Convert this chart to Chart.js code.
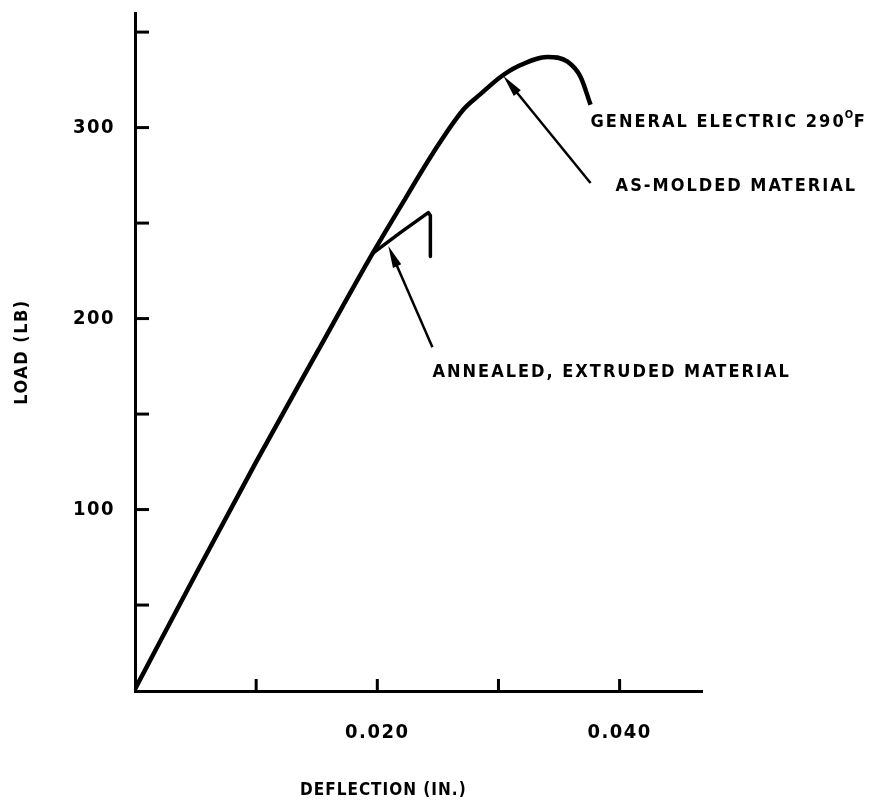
<!DOCTYPE html>
<html>
<head>
<meta charset="utf-8">
<script src="https://cdn.jsdelivr.net/npm/chart.js@4.4.1/dist/chart.umd.min.js"></script>
<style>
  html, body { margin: 0; padding: 0; background: #fff; }
  #wrap { width: 887px; height: 803px; }
</style>
</head>
<body>
<div id="wrap"><canvas id="grafico"></canvas></div>
<script>
// dados (deflexao em polegadas, carga em lb)
const deflexaoGE = [0, 0.005, 0.010, 0.015, 0.0196, 0.0219, 0.02463, 0.02711, 0.02851, 0.03017, 0.03157, 0.03405, 0.0357, 0.03678, 0.0376];
const cargaGE = [6, 66, 125, 182, 234, 258.5, 287, 309.5, 317.5, 326.5, 332, 337, 334.5, 326.5, 312];

const deflexaoRecozido = [0.01959, 0.0219, 0.02421, 0.02438, 0.02438];
const cargaRecozido = [234, 245, 255.5, 254, 232.5];

const ticksX = [0.010, 0.020, 0.030, 0.040];
const rotulosX = [0.020, 0.040];
const ticksY = [50, 100, 150, 200, 250, 300, 350];
const rotulosY = [100, 200, 300];

// setas: [cauda x, cauda y, ponta x, ponta y]
const setaGE = [0.0376, 271, 0.03041, 327];
const setaRecozido = [0.02455, 185, 0.02091, 238];

// textos: [texto, x, y]
const textos = [
  ["GENERAL ELECTRIC 290", 0.0376, 303],
  ["AS-MOLDED MATERIAL", 0.03967, 269.5],
  ["ANNEALED, EXTRUDED MATERIAL", 0.02455, 171.7]
];

const fonte = "'DejaVu Sans Condensed', 'DejaVu Sans', sans-serif";

function pontos(xs, ys) {
  return xs.map((x, i) => ({ x: x, y: ys[i] }));
}

function desenharSeta(ctx, sx, sy, px, py) {
  const ang = Math.atan2(py - sy, px - sx);
  ctx.save();
  ctx.strokeStyle = "#000";
  ctx.fillStyle = "#000";
  ctx.lineWidth = 2.5;
  ctx.beginPath();
  ctx.moveTo(sx, sy);
  ctx.lineTo(px - Math.cos(ang) * 10, py - Math.sin(ang) * 10);
  ctx.stroke();
  ctx.translate(px, py);
  ctx.rotate(ang);
  ctx.beginPath();
  ctx.moveTo(0, 0);
  ctx.lineTo(-22, -4.5);
  ctx.lineTo(-22, 4.5);
  ctx.closePath();
  ctx.fill();
  ctx.restore();
}

const anotacoes = {
  id: "anotacoes",
  beforeDraw(chart) {
    chart.ctx.letterSpacing = "1.5px";
  },
  afterDraw(chart) {
    const ctx = chart.ctx;
    const sx = chart.scales.x;
    const sy = chart.scales.y;
    const area = chart.chartArea;

    // marcas dos eixos para dentro
    ctx.save();
    ctx.strokeStyle = "#000";
    ctx.lineWidth = 3;
    ticksY.forEach(v => {
      const y = sy.getPixelForValue(v);
      ctx.beginPath();
      ctx.moveTo(area.left, y);
      ctx.lineTo(area.left + 14, y);
      ctx.stroke();
    });
    ticksX.forEach(v => {
      const x = sx.getPixelForValue(v);
      ctx.beginPath();
      ctx.moveTo(x, area.bottom);
      ctx.lineTo(x, area.bottom - 12);
      ctx.stroke();
    });
    ctx.restore();

    desenharSeta(ctx, sx.getPixelForValue(setaGE[0]), sy.getPixelForValue(setaGE[1]),
      sx.getPixelForValue(setaGE[2]), sy.getPixelForValue(setaGE[3]));
    desenharSeta(ctx, sx.getPixelForValue(setaRecozido[0]), sy.getPixelForValue(setaRecozido[1]),
      sx.getPixelForValue(setaRecozido[2]), sy.getPixelForValue(setaRecozido[3]));

    ctx.save();
    ctx.fillStyle = "#000";
    ctx.font = "bold 18px " + fonte;
    ctx.letterSpacing = "2px";
    ctx.textBaseline = "middle";
    ctx.textAlign = "left";
    textos.forEach(t => {
      const x = sx.getPixelForValue(t[1]);
      const y = sy.getPixelForValue(t[2]);
      ctx.fillText(t[0], x, y);
      if (t[0].endsWith("290")) {
        const w = ctx.measureText(t[0]).width;
        ctx.font = "bold 11px " + fonte;
        ctx.letterSpacing = "0px";
        ctx.fillText("O", x + w - 1, y - 7);
        ctx.font = "bold 18px " + fonte;
        ctx.letterSpacing = "2px";
        ctx.fillText("F", x + w + 8, y);
      }
    });

    // titulo do eixo x
    ctx.textAlign = "center";
    ctx.font = "bold 17px " + fonte;
    ctx.letterSpacing = "1px";
    ctx.fillText("DEFLECTION (IN.)", sx.getPixelForValue(0.0205), 791);
    ctx.restore();
    ctx.letterSpacing = "0px";
  }
};

new Chart(document.getElementById("grafico"), {
  type: "line",
  data: {
    datasets: [
      {
        label: "General Electric 290F as-molded",
        data: pontos(deflexaoGE, cargaGE),
        borderColor: "#000",
        borderWidth: 4.5,
        pointRadius: 0,
        cubicInterpolationMode: "monotone",
        fill: false
      },
      {
        label: "Annealed, extruded",
        data: pontos(deflexaoRecozido, cargaRecozido),
        borderColor: "#000",
        borderWidth: 3.5,
        pointRadius: 0,
        tension: 0,
        borderJoinStyle: "round",
        fill: false
      }
    ]
  },
  plugins: [anotacoes],
  options: {
    responsive: true,
    maintainAspectRatio: false,
    animation: false,
    layout: { padding: { top: 13, right: 185, left: 0, bottom: 0 } },
    plugins: {
      legend: { display: false },
      tooltip: { enabled: false }
    },
    scales: {
      x: {
        type: "linear",
        min: 0,
        max: 0.0468,
        afterBuildTicks: s => { s.ticks = ticksX.map(v => ({ value: v })); },
        afterFit: s => { s.height = 112; s.paddingLeft = 0; s.paddingRight = 0; },
        grid: { display: false },
        border: { display: true, color: "#000", width: 3 },
        ticks: {
          color: "#000",
          padding: 22,
          font: { family: fonte, size: 20, weight: "bold" },
          maxRotation: 0,
          callback: v => rotulosX.some(r => Math.abs(r - v) < 1e-9) ? v.toFixed(3) : ""
        }
      },
      y: {
        min: 5,
        max: 360,
        afterBuildTicks: s => { s.ticks = ticksY.map(v => ({ value: v })); },
        afterFit: s => { s.width = 135; s.paddingTop = 0; s.paddingBottom = 0; },
        grid: { display: false },
        border: { display: true, color: "#000", width: 3 },
        title: {
          display: true,
          text: "LOAD (LB)",
          color: "#000",
          font: { family: fonte, size: 18, weight: "bold" },
          padding: { top: 12, bottom: 0 }
        },
        ticks: {
          color: "#000",
          padding: 12,
          font: { family: fonte, size: 20, weight: "bold" },
          callback: v => rotulosY.includes(v) ? String(v) : ""
        }
      }
    }
  }
});
</script>
</body>
</html>
